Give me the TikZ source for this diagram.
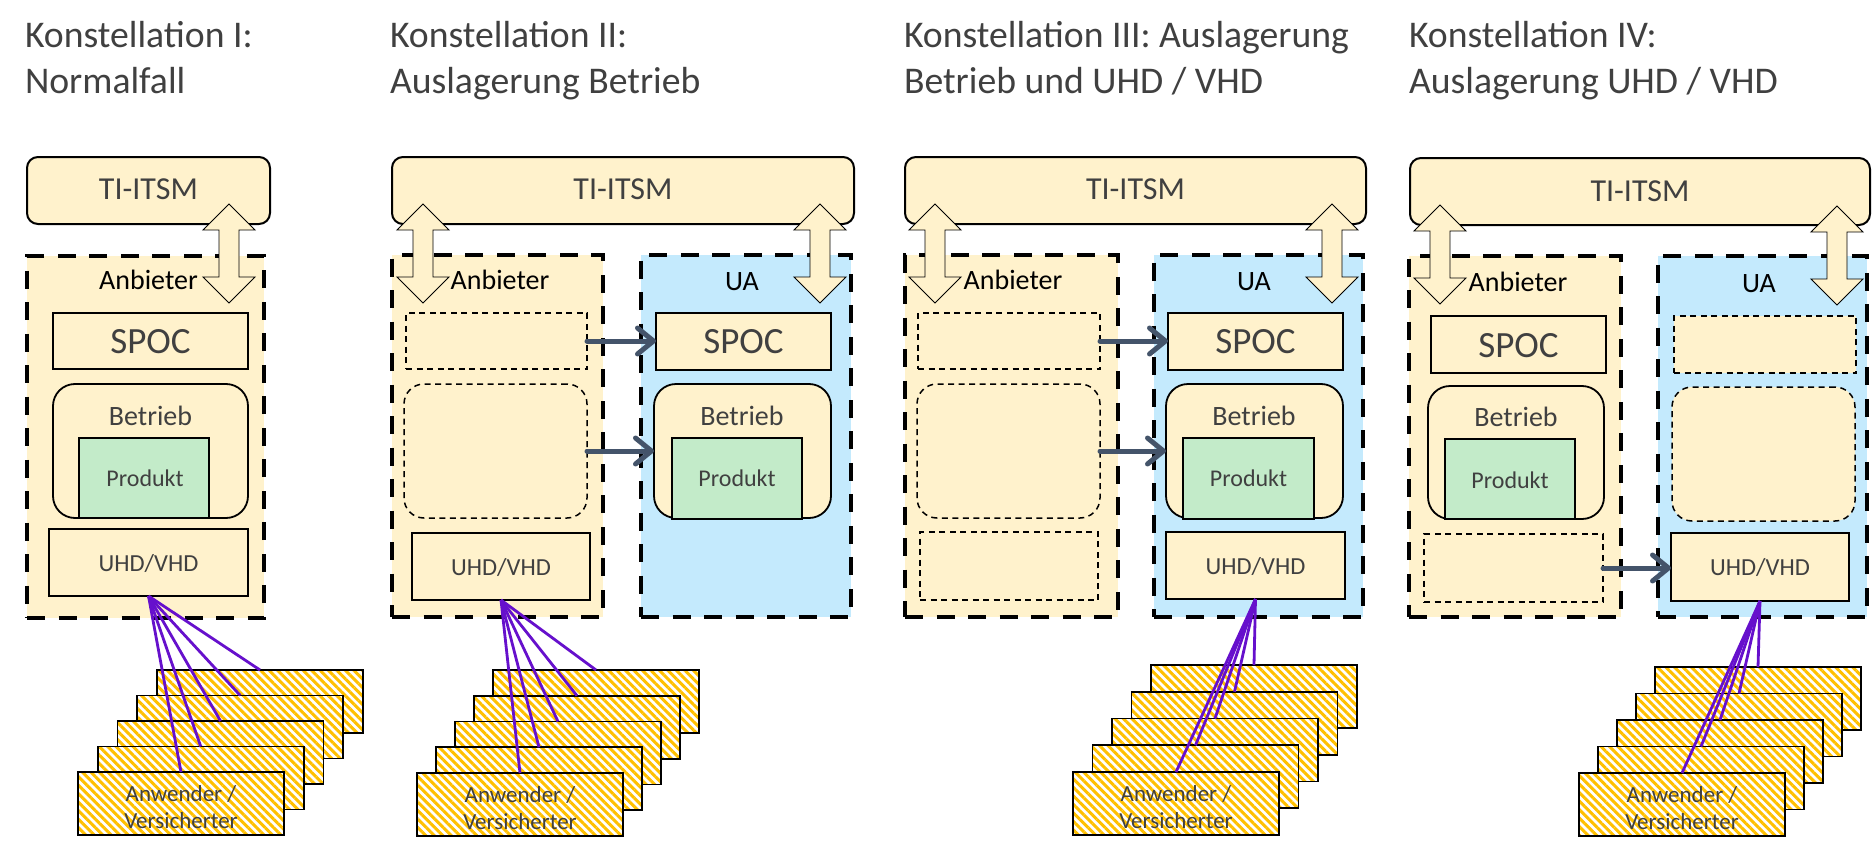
\documentclass[tikz,border=0pt]{standalone}
\usepackage{fontspec}
\setmainfont{Carlito}
\usetikzlibrary{arrows.meta,patterns.meta}
\definecolor{fy}{HTML}{FFF2CC}
\definecolor{fb}{HTML}{C4EAFD}
\definecolor{fg}{HTML}{C3EBC9}
\definecolor{tx}{HTML}{404040}
\definecolor{pu}{HTML}{6610CC}
\definecolor{ar}{HTML}{44546A}
\definecolor{st}{HTML}{FFC000}
\newcommand\ftitle{\fontsize{37.7}{45}\selectfont}
\newcommand\fitsm{\fontsize{32}{38}\selectfont}
\newcommand\fanb{\fontsize{28}{34}\selectfont}
\newcommand\fspoc{\fontsize{37}{44}\selectfont}
\newcommand\fbet{\fontsize{28}{34}\selectfont}
\newcommand\fprod{\fontsize{24}{29}\selectfont}
\newcommand\fuhd{\fontsize{24.5}{29}\selectfont}
\newcommand\fanw{\fontsize{23}{27}\selectfont}
\newcommand\bx[6][]{\node[boxbase,#1,minimum width={(#5-#3)*1pt},minimum height={(#6-#4)*1pt}] (#2) at ({(#3+#5)/2},{(#4+#6)/2}) {};}
\newcommand\lbl[5][]{\node[lab,#1] (#2) at ({#3},{#4}) {#5};}
\newcommand\dbl[2]{\draw[dblarrow] (#1,#2) -- ++(26,26) -- ++(-16,0) -- ++(0,47) -- ++(16,0) -- ++(-26,26) -- ++(-26,-26) -- ++(16,0) -- ++(0,-47) -- ++(-16,0) -- cycle;}
\newcommand\stk[6]{%
  \foreach \k/\n in {4/e,3/d,2/c,1/b,0/a}{%
    \pgfmathsetmacro\sx{#2+(#4-#2)*\k/4}%
    \pgfmathsetmacro\sy{#3+(#5-#3)*\k/4}%
    \node[hatchbox,anchor=north west] (s#1\n) at (\sx,\sy) {};
  }
  \lbl[font=\fanw]{wa#1}{#2+103}{#3+29}{Anwender /}
  \lbl[font=\fanw]{wb#1}{#2+103}{#3+56}{Versicherter}
  \foreach \n in {a,b,c,d,e}{\draw[pline] (#6.south) -- (s#1\n.north);}
}
\tikzset{
  boxbase/.style={rectangle, inner sep=0pt, outer sep=0pt},
  outerbox/.style={draw=black, line width=4.5pt, dash pattern=on 18pt off 13.5pt},
  sbox/.style={draw=black, line width=1.8pt, fill=fy},
  phbox/.style={draw=black, line width=1.5pt, dash pattern=on 6pt off 4.5pt, fill=fy},
  itsm/.style={draw=black, line width=2pt, fill=fy, rounded corners=11pt},
  lab/.style={anchor=base, inner sep=0pt, outer sep=0pt, text=tx},
  dblarrow/.style={draw=black, line width=0.9pt, fill=fy, line join=miter},
  mv/.style={draw=ar, line width=5pt, line cap=round, -{Straight Barb[length=16pt,width=26pt,round]}},
  pline/.style={draw=pu, line width=2.8pt},
  hatchbox/.style={rectangle, inner sep=0pt, outer sep=0pt, minimum width=206pt, minimum height=63pt, draw=black, line width=1.8pt, preaction={fill=white}, pattern={Lines[angle=-45,distance=6pt,line width=3pt]}, pattern color=st},
}
\begin{document}
\begin{tikzpicture}[x=1pt,y=-1pt]
\useasboundingbox (0,0) rectangle (1872,851);
% ---------- titles
\lbl[anchor=base west,font=\ftitle]{h1a}{25}{48}{Konstellation I:}
\lbl[anchor=base west,font=\ftitle]{h1b}{25}{93}{Normalfall}
\lbl[anchor=base west,font=\ftitle]{h2a}{390}{48}{Konstellation II:}
\lbl[anchor=base west,font=\ftitle]{h2b}{390}{93}{Auslagerung Betrieb}
\lbl[anchor=base west,font=\ftitle]{h3a}{904}{48}{Konstellation III: Auslagerung}
\lbl[anchor=base west,font=\ftitle]{h3b}{904}{93}{Betrieb und UHD / VHD}
\lbl[anchor=base west,font=\ftitle]{h4a}{1409}{48}{Konstellation IV:}
\lbl[anchor=base west,font=\ftitle]{h4b}{1409}{93}{Auslagerung UHD / VHD}
% ---------- Konstellation I
\bx[outerbox,fill=fy]{anb1}{27}{256}{264}{618}
\bx[sbox]{spoc1}{53}{313}{248}{369}
\bx[sbox,rounded corners=22pt]{betr1}{53}{384}{248}{518}
\bx[sbox,fill=fg]{prod1}{79}{438}{209}{518}
\bx[sbox]{uhd1}{49}{529}{248}{596}
\lbl[text=black,font=\fanb]{la1}{148.5}{289}{Anbieter}
\lbl[font=\fspoc]{ls1}{150.5}{353}{SPOC}
\lbl[font=\fbet]{lb1}{150.5}{425}{Betrieb}
\lbl[font=\fprod]{lp1}{145}{486}{Produkt}
\lbl[font=\fuhd]{lu1}{148.5}{571}{UHD/VHD}
\bx[itsm]{ti1}{27}{157}{270}{224}
\lbl[font=\fitsm]{lt1}{148.5}{199}{TI-ITSM}
\dbl{229}{204}
% ---------- Konstellation II
\bx[outerbox,fill=fy]{anb2}{392}{255}{603}{617}
\bx[phbox]{ps2}{406}{313}{587}{369}
\bx[phbox,rounded corners=20pt]{pb2}{404}{384}{587}{518}
\bx[sbox]{uhd2}{412}{533}{590}{600}
\bx[outerbox,fill=fb]{ua2}{641}{255}{851}{617}
\bx[sbox]{spoc2}{656}{313}{831}{370}
\bx[sbox,rounded corners=22pt]{betr2}{654}{384}{831}{518}
\bx[sbox,fill=fg]{prod2}{672}{438}{802}{519}
\lbl[text=black,font=\fanb]{la2}{500}{289}{Anbieter}
\lbl[font=\fuhd]{lu2}{501}{575}{UHD/VHD}
\lbl[text=black,font=\fanb]{lua2}{742}{290}{UA}
\lbl[font=\fspoc]{ls2}{743.5}{353}{SPOC}
\lbl[font=\fbet]{lb2}{742}{425}{Betrieb}
\lbl[font=\fprod]{lp2}{737}{486}{Produkt}
\bx[itsm]{ti2}{392}{157}{854}{224}
\lbl[font=\fitsm]{lt2}{623}{199}{TI-ITSM}
\dbl{423}{204}
\dbl{820}{204}
\draw[mv] (ps2.east) -- (ps2.east -| spoc2.west);
\draw[mv] (pb2.east) -- (pb2.east -| betr2.west);
% ---------- Konstellation III
\bx[outerbox,fill=fy]{anb3}{905}{255}{1118}{617}
\bx[phbox]{ps3}{918}{313}{1100}{369}
\bx[phbox,rounded corners=20pt]{pb3}{917}{384}{1100}{518}
\bx[phbox]{pu3}{920}{532}{1098}{600}
\bx[outerbox,fill=fb]{ua3}{1154}{255}{1363}{617}
\bx[sbox]{spoc3}{1168}{313}{1343}{370}
\bx[sbox,rounded corners=22pt]{betr3}{1166}{384}{1343}{518}
\bx[sbox,fill=fg]{prod3}{1183}{438}{1314}{519}
\bx[sbox]{uhd3}{1166}{532}{1345}{599}
\lbl[text=black,font=\fanb]{la3}{1013}{289}{Anbieter}
\lbl[text=black,font=\fanb]{lua3}{1254}{290}{UA}
\lbl[font=\fspoc]{ls3}{1255.5}{353}{SPOC}
\lbl[font=\fbet]{lb3}{1254}{425}{Betrieb}
\lbl[font=\fprod]{lp3}{1248.5}{486}{Produkt}
\lbl[font=\fuhd]{lu3}{1255.5}{574}{UHD/VHD}
\bx[itsm]{ti3}{905}{157}{1366}{224}
\lbl[font=\fitsm]{lt3}{1135.5}{199}{TI-ITSM}
\dbl{935}{204}
\dbl{1332}{204}
\draw[mv] (ps3.east) -- (ps3.east -| spoc3.west);
\draw[mv] (pb3.east) -- (pb3.east -| betr3.west);
% ---------- Konstellation IV
\bx[outerbox,fill=fy]{anb4}{1409}{256}{1621}{617}
\bx[sbox]{spoc4}{1431}{316}{1606}{373}
\bx[sbox,rounded corners=22pt]{betr4}{1428}{386}{1604}{519}
\bx[sbox,fill=fg]{prod4}{1445}{439}{1575}{519}
\bx[phbox]{pu4}{1424}{534}{1603}{602}
\bx[outerbox,fill=fb]{ua4}{1658}{256}{1867}{617}
\bx[phbox]{ps4}{1674}{316}{1856}{373}
\bx[phbox,rounded corners=20pt]{pb4}{1672}{387}{1855}{521}
\bx[sbox]{uhd4}{1671}{533}{1849}{601}
\lbl[text=black,font=\fanb]{la4}{1518}{291}{Anbieter}
\lbl[font=\fspoc]{ls4}{1518.5}{357}{SPOC}
\lbl[font=\fbet]{lb4}{1516}{426}{Betrieb}
\lbl[font=\fprod]{lp4}{1510}{488}{Produkt}
\lbl[text=black,font=\fanb]{lua4}{1759}{292}{UA}
\lbl[font=\fuhd]{lu4}{1760}{575}{UHD/VHD}
\bx[itsm]{ti4}{1410}{158}{1870}{225}
\lbl[font=\fitsm]{lt4}{1640}{201}{TI-ITSM}
\dbl{1440}{205}
\dbl{1837}{206}
\draw[mv] (pu4.east) -- (pu4.east -| uhd4.west);
% ---------- Anwender stacks
\stk{1}{78}{772}{157}{670}{uhd1}
\stk{2}{417}{773}{493}{670}{uhd2}
\stk{3}{1073}{772}{1151}{665}{uhd3}
\stk{4}{1579}{773}{1655}{667}{uhd4}
\end{tikzpicture}
\end{document}
